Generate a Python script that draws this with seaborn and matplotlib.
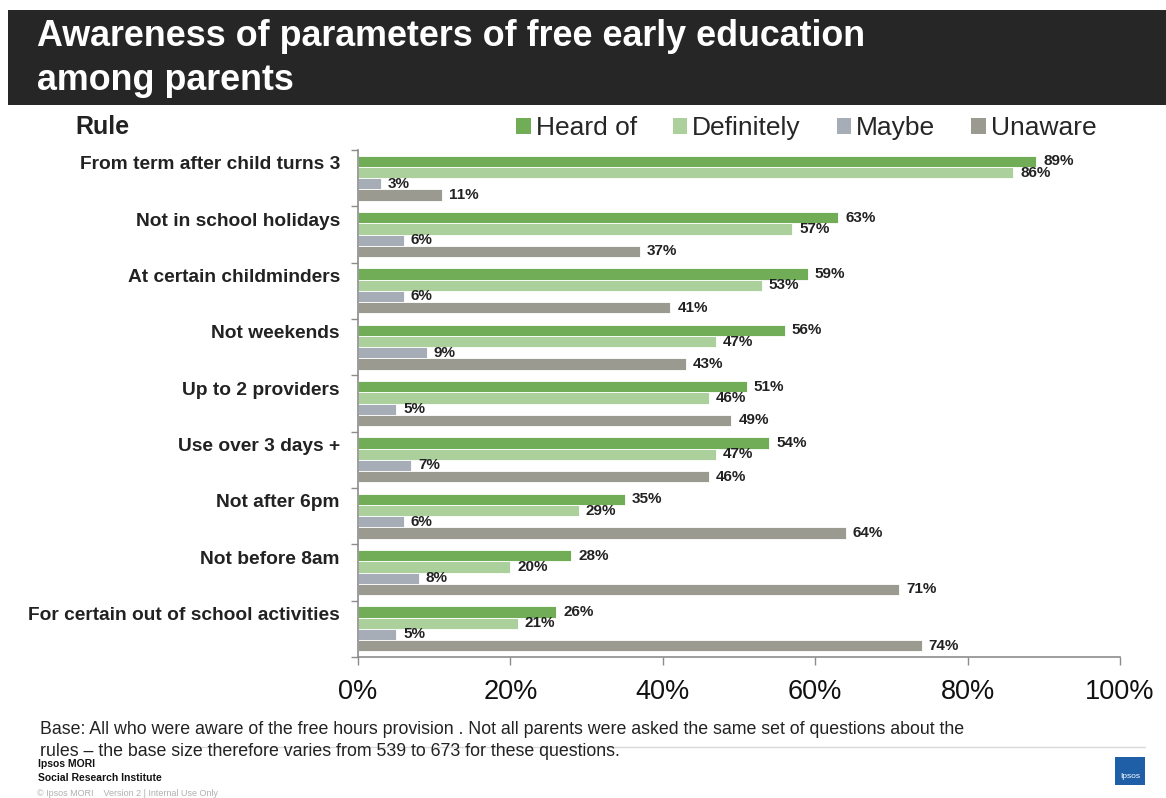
import numpy as np
import pandas as pd
import matplotlib
matplotlib.use("Agg")
import matplotlib.pyplot as plt
from matplotlib.patches import Rectangle
import seaborn as sns

# Survey data: share of parents aware of each rule (%)
rules = [
    "From term after child turns 3",
    "Not in school holidays",
    "At certain childminders",
    "Not weekends",
    "Up to 2 providers",
    "Use over 3 days +",
    "Not after 6pm",
    "Not before 8am",
    "For certain out of school activities",
]
heard_of = [89, 63, 59, 56, 51, 54, 35, 28, 26]
definitely = [86, 57, 53, 47, 46, 47, 29, 20, 21]
maybe = [3, 6, 6, 9, 5, 7, 6, 8, 5]
unaware = [11, 37, 41, 43, 49, 46, 64, 71, 74]

series_names = ["Heard of", "Definitely", "Maybe", "Unaware"]
series_values = [heard_of, definitely, maybe, unaware]
colors = ["#70ad56", "#abd09b", "#a6adb6", "#9b9a91"]
x_ticks = [0, 20, 40, 60, 80, 100]

df = pd.DataFrame(
    [(r, s, v) for s, vals in zip(series_names, series_values) for r, v in zip(rules, vals)],
    columns=["Rule", "Response", "Percent"],
)

sns.set_theme(style="white")
plt.rcParams["font.family"] = ["Liberation Sans", "DejaVu Sans"]

W, H = 1166, 798
fig = plt.figure(figsize=(W / 100, H / 100), dpi=100)
ax = fig.add_axes([358 / W, 1 - 657 / H, (1120 - 358) / W, (657 - 150) / H])

sns.barplot(
    data=df, y="Rule", x="Percent", hue="Response",
    hue_order=series_names, order=rules, palette=colors,
    orient="h", width=0.8, saturation=1, ax=ax, legend=False,
    edgecolor="white", linewidth=0.6,
)

for cont in ax.containers:
    vals = [int(round(b.get_width())) for b in cont]
    ax.bar_label(cont, labels=[f"{v}%" for v in vals], padding=5,
                 fontsize=11, fontweight="bold", color="#222222")

n = len(rules)
ax.set_xlim(0, 100)
ax.set_ylim(n - 0.5, -0.5)
ax.set_xticks(x_ticks)
ax.set_xticklabels([f"{t}%" for t in x_ticks], fontsize=19.5, color="#111111")
ax.set_yticks(np.arange(n) - 0.27)
ax.set_yticklabels(rules, fontsize=13.8, fontweight="bold", color="#222222")
ax.set_yticks(np.arange(n + 1) - 0.5, minor=True)
ax.tick_params(axis="y", which="major", length=0, pad=13)
ax.tick_params(axis="y", which="minor", length=5, width=1, color="#8c8c8c", direction="out", left=True)
ax.tick_params(axis="x", which="major", length=6, width=1, color="#8c8c8c", direction="out", bottom=True, pad=10)
ax.set_xlabel("")
ax.set_ylabel("")
for side in ["top", "right"]:
    ax.spines[side].set_visible(False)
for side in ["left", "bottom"]:
    ax.spines[side].set_color("#8c8c8c")
    ax.spines[side].set_linewidth(1.2)

# Title banner
fig.patches.append(Rectangle((8 / W, 1 - 105 / H), 1 - 8 / W, 95 / H,
                             transform=fig.transFigure, facecolor="#262626",
                             edgecolor="none", zorder=0))
fig.text(37 / W, 1 - 37 / H, "Awareness of parameters of free early education",
         fontsize=25.8, fontweight="bold", color="white", va="center", ha="left")
fig.text(37 / W, 1 - 80 / H, "among parents",
         fontsize=25.8, fontweight="bold", color="white", va="center", ha="left")

fig.text(75 / W, 1 - 127 / H, "Rule", fontsize=18, fontweight="bold",
         color="#222222", va="center", ha="left")

# Legend
handles = [Rectangle((0, 0), 1, 1, facecolor=c, edgecolor="none") for c in colors]
fig.legend(handles, series_names, loc="center left", bbox_to_anchor=(516 / W, 1 - 128 / H),
           ncol=4, frameon=False, fontsize=19, handlelength=0.55, handleheight=0.55,
           handletextpad=0.2, columnspacing=1.35, borderaxespad=0, borderpad=0)

# Footnote
fig.text(40 / W, 1 - 730 / H,
         "Base: All who were aware of the free hours provision . Not all parents were asked the same set of questions about the",
         fontsize=12.8, color="#222222", va="center", ha="left")
fig.text(40 / W, 1 - 751 / H,
         "rules \u2013 the base size therefore varies from 539 to 673 for these questions.",
         fontsize=12.8, color="#222222", va="center", ha="left")
fig.add_artist(plt.Line2D([190 / W, 1145 / W], [1 - 747 / H, 1 - 747 / H],
                          transform=fig.transFigure, color="#d9d9d9", linewidth=1))

fig.text(38 / W, 1 - 764 / H, "Ipsos MORI", fontsize=7.5, fontweight="bold",
         color="#111111", va="center", ha="left")
fig.text(38 / W, 1 - 778 / H, "Social Research Institute", fontsize=7.5, fontweight="bold",
         color="#111111", va="center", ha="left")
fig.text(37 / W, 1 - 793 / H, "\u00a9 Ipsos MORI    Version 2 | Internal Use Only",
         fontsize=6.5, color="#b0b0b0", va="center", ha="left")

# Logo block
fig.patches.append(Rectangle((1115 / W, 1 - 785 / H), 30 / W, 28 / H,
                             transform=fig.transFigure, facecolor="#1f5fa8",
                             edgecolor="none"))
fig.text(1130 / W, 1 - 777 / H, "Ipsos", fontsize=6, color="white",
         va="center", ha="center")

fig.savefig("out.png", dpi=100)
